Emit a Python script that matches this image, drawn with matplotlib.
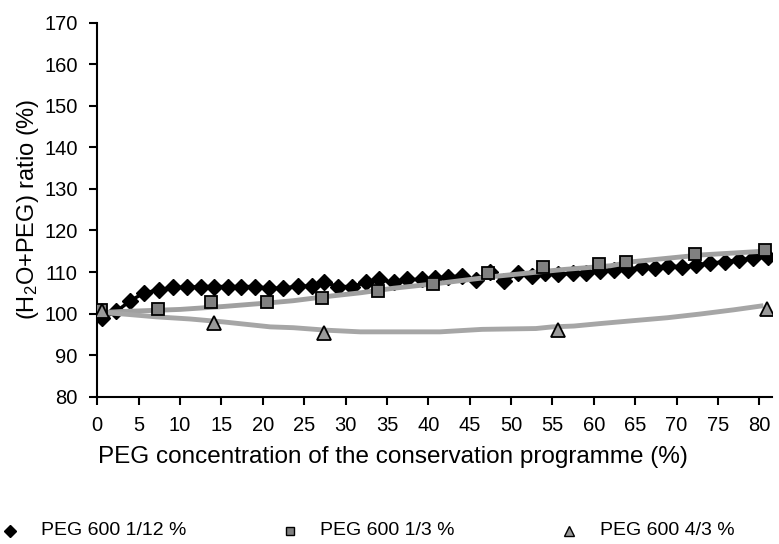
import numpy as np
import matplotlib.pyplot as plt
from matplotlib.lines import Line2D

plt.rcParams.update({
    "font.family": ["Liberation Sans", "DejaVu Sans"],
    "mathtext.fontset": "custom",
    "mathtext.rm": "Liberation Sans",
    "mathtext.it": "Liberation Sans",
    "font.size": 14,
})

# PEG 600 1/12 % (diamonds)
x_d = [0.6, 2.3, 4.0, 5.6, 7.4, 9.1, 10.9, 12.5, 14.1, 15.8, 17.4, 19.1, 20.7,
       22.5, 24.2, 25.9, 27.4, 29.1, 30.8, 32.5, 34.1, 35.8, 37.4, 39.2, 40.8,
       42.4, 44.1, 45.8, 47.5, 49.2, 50.9, 52.5, 54.1, 55.7, 57.5, 59.1, 60.8,
       62.4, 64.1, 65.8, 67.4, 69.0, 70.7, 72.4, 74.1, 75.8, 77.6, 79.2, 81.1]
y_d = [98.9, 100.5, 103.1, 104.9, 105.7, 106.3, 106.3, 106.5, 106.5, 106.5, 106.5,
       106.5, 106.1, 106.1, 106.6, 106.6, 107.5, 106.5, 106.5, 107.5, 108.2, 107.5,
       108.2, 108.2, 108.5, 108.9, 109.0, 108.1, 110.1, 107.9, 109.8, 109.0, 109.7,
       109.5, 109.7, 109.8, 110.3, 110.6, 110.5, 111.3, 110.9, 111.4, 111.3, 111.7,
       112.1, 112.5, 112.9, 113.3, 113.7]

# PEG 600 1/3 % (squares) and its trend line
x_s = [0.5, 7.3, 13.8, 20.5, 27.1, 33.9, 40.6, 47.2, 53.9, 60.6, 63.9, 72.2, 80.7]
y_s = [100.9, 101.1, 102.9, 102.7, 103.7, 105.5, 107.0, 109.8, 111.1, 111.9, 112.5, 114.3, 115.3]
x_s_trend = [0, 3.1, 10.0, 15.2, 20.9, 23.7, 27.7, 31.8, 35.8, 41.4, 48.3, 56.3, 62.0, 64.8, 72.9, 80.5]
y_s_trend = [100.2, 100.5, 101.0, 101.7, 102.6, 103.1, 104.1, 105.0, 106.1, 107.3, 109.0, 110.6, 111.5, 112.5, 114.1, 115.0]

# PEG 600 4/3 % (triangles) and its trend line
x_t = [0.6, 14.1, 27.4, 55.7, 80.9]
y_t = [100.5, 97.7, 95.3, 96.0, 101.0]
x_t_trend = [0, 3.1, 7.2, 11.2, 15.2, 20.9, 23.7, 27.7, 31.8, 41.4, 46.5, 53.0, 55.0,
             57.6, 60.8, 64.8, 68.9, 72.9, 76.9, 80.5]
y_t_trend = [100.3, 99.9, 99.2, 98.7, 98.0, 96.8, 96.6, 96.0, 95.6, 95.6, 96.2, 96.4, 96.8,
             97.0, 97.6, 98.3, 99.0, 99.9, 100.9, 101.9]

labels = ["PEG 600 1/12 %", "PEG 600 1/3 %", "PEG 600 4/3 %"]

fig = plt.figure(figsize=(7.79, 5.44), dpi=100)
ax = fig.add_axes([0.1249, 0.2708, 0.8657, 0.6875])

ax.plot(x_d, y_d, color="black", lw=2.5, marker="D", ms=8.5, mfc="black", mec="black", zorder=2)
ax.plot(x_s_trend, y_s_trend, color="#a0a0a0", lw=3.5, solid_capstyle="butt", zorder=3)
ax.plot(x_t_trend, y_t_trend, color="#a6a6a6", lw=3.5, solid_capstyle="butt", zorder=3)
ax.plot(x_s, y_s, ls="none", marker="s", ms=8.5, mfc="#808080", mec="black", mew=1.3, zorder=4)
ax.plot(x_t, y_t, ls="none", marker="^", ms=10, mfc="#999999", mec="black", mew=1.3, zorder=4)

ax.set_xlim(0, 81.5)
ax.set_ylim(80, 170)
ax.set_xticks(np.arange(0, 81, 5))
ax.set_yticks(np.arange(80, 171, 10))
for s in ["top", "right"]:
    ax.spines[s].set_visible(False)
for s in ["left", "bottom"]:
    ax.spines[s].set_linewidth(1.5)
ax.tick_params(direction="out", length=6, width=1.5, labelsize=14.5, pad=8)

# axis titles
fig.text(0.126, 0.16, "PEG concentration of the conservation programme (%)", fontsize=17.5,
         ha="left", va="center")
fig.text(0.036, 0.615, "(H$_2$O+PEG) ratio (%)", fontsize=17, rotation=90,
         ha="center", va="center")

# legend along the bottom
leg_y = 0.024
items = [("D", "black", 0.013, 6), ("s", "#808080", 0.372, 6), ("^", "#999999", 0.731, 7)]
for (mk, fc, x0, ms), lab in zip(items, labels):
    fig.add_artist(Line2D([x0], [leg_y], transform=fig.transFigure, ls="none", marker=mk,
                          ms=ms, mfc=fc, mec="black", mew=1.0))
    fig.text(x0 + 0.039, leg_y, lab, fontsize=14, va="center", ha="left")

fig.savefig("out.png", dpi=100)
